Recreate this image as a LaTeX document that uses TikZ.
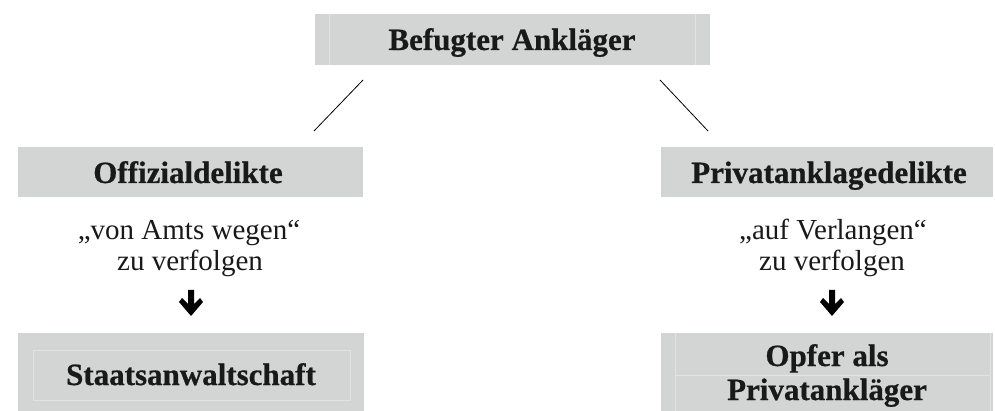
\documentclass[tikz,border=0pt]{standalone}
\usepackage{fontspec}
\setmainfont{Liberation Serif}[BoldFeatures={FakeBold=0.6}]
\definecolor{boxgray}{RGB}{211,212,212}
\definecolor{cellline}{RGB}{225,226,226}
\begin{document}
\begin{tikzpicture}[x=1pt,y=-1pt,
  box/.style={fill=boxgray, draw=none, inner sep=0pt},
  cell/.style={draw=cellline, line width=0.6pt},
  boldlbl/.style={font=\fontsize{31}{34}\selectfont\bfseries, anchor=base, inner sep=0pt, text=black!90},
  plainlbl/.style={font=\fontsize{29}{36}\selectfont, anchor=base, inner sep=0pt, text=black!90},
  conn/.style={draw=black, line width=0.8pt},
  downarrow/.style={fill=black, draw=none}]
\useasboundingbox (0,0) rectangle (995,411);
% boxes
\fill[box] (315,14) rectangle (710,65);
\draw[cell] (329,14) -- (329,65) (695,14) -- (695,65);
\fill[box] (18,147) rectangle (363,197);
\fill[box] (661,147) rectangle (993,197);
\fill[box] (18,333) rectangle (364,411);
\draw[cell] (33,350) rectangle (350,400);
\fill[box] (661,333) rectangle (993,411);
\draw[cell] (675,333) -- (675,411) (990,333) -- (990,411) (675,375) -- (990,375);
% labels
\node[boldlbl] (top) at (512,50) {Befugter Ankläger};
\node[boldlbl] (offi) at (188,183) {Offizialdelikte};
\node[boldlbl] (priv) at (829,183) {Privatanklagedelikte};
\node[plainlbl] (offitxtA) at (189,240) {„von Amts wegen“};
\node[plainlbl] (offitxtB) at (190,271) {zu verfolgen};
\node[plainlbl] (privtxtA) at (833,240) {„auf Verlangen“};
\node[plainlbl] (privtxtB) at (832,271) {zu verfolgen};
\node[boldlbl] (sta) at (191,385) {Staatsanwaltschaft};
\node[boldlbl] (opferA) at (827,366) {Opfer als};
\node[boldlbl] (opferB) at (827,400) {Privatankläger};
% connectors
\coordinate (la) at (363,80);
\coordinate (lb) at (314,131);
\coordinate (ra) at (660,80);
\coordinate (rb) at (708,131);
\draw[conn] (la) -- (lb);
\draw[conn] (ra) -- (rb);
% arrows
\foreach \cx/\nm in {191/arrL, 832/arrR}{
  \fill[downarrow] (\cx-3,290) -- (\cx+3,290) -- (\cx+3,304) -- (\cx+9,298) -- (\cx+12,302) -- (\cx,316) -- (\cx-12,302) -- (\cx-9,298) -- (\cx-3,304) -- cycle;
  \coordinate (\nm) at (\cx,303);
}
\end{tikzpicture}
\end{document}
